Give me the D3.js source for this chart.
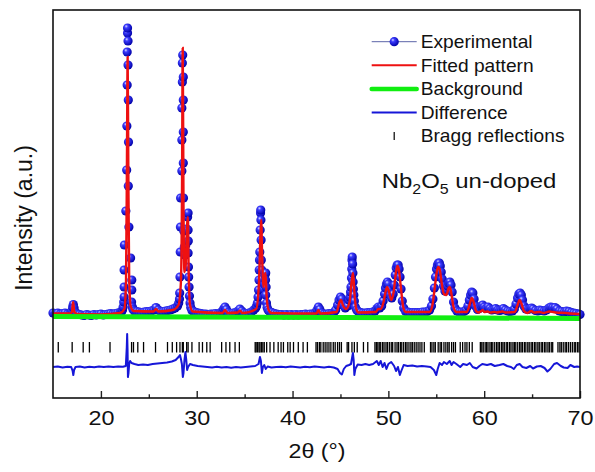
<!DOCTYPE html>
<html>
<head>
<meta charset="utf-8">
<script src="https://cdnjs.cloudflare.com/ajax/libs/d3/7.8.5/d3.min.js"></script>
<style>
    body { margin: 0; background: #fff; }
    svg { display: block; font-family: "Liberation Sans", Arial, sans-serif; }
</style>
</head>
<body>
<div id="chart"></div>
<script>

//values: [2theta (deg), intensity (a.u.)]
const expPoints = [
    [15.0,40],[15.25,35],[15.5,40],[15.75,30],[16.0,35],[16.25,40],[16.5,30],[16.75,35],[16.95,60],[17.05,100],[17.12,125],[17.2,90],[17.35,45],[17.5,30],
    [17.75,25],[18.0,20],[18.25,15],[18.5,25],[18.75,20],[19.0,15],[19.25,25],[19.5,20],[19.75,25],[20.0,30],[20.25,20],[20.5,25],[20.75,30],[21.0,35],
    [21.25,30],[21.5,35],[21.75,40],[22.0,45],[22.15,55],[22.25,70],[22.32,100],[22.38,150],[22.42,200],[22.42,300],[22.42,470],[22.45,720],[22.6,1060],
    [22.69,1470],[22.71,1910],[22.74,2320],[22.74,2650],[22.78,2840],[22.78,2890],[22.83,2760],[22.83,2520],[22.86,2170],[22.88,1750],[22.86,1310],
    [22.92,900],[23.1,590],[23.22,370],[23.22,270],[23.2,150],[23.28,100],[23.35,75],[23.5,60],[23.75,55],[24.0,50],[24.25,45],[24.5,50],[24.75,55],
    [25.0,55],[25.25,60],[25.5,70],[25.75,95],[26.0,70],[26.25,55],[26.5,55],[26.75,60],[27.0,65],[27.25,70],[27.5,80],[27.75,90],[28.0,110],[28.12,140],
    [28.2,180],[28.22,240],[28.25,400],[28.28,650],[28.3,900],[28.32,1190],[28.45,1460],[28.45,1770],[28.45,2090],[28.5,2350],[28.5,2540],[28.54,2620],
    [28.6,2400],[28.6,2170],[28.6,1850],[28.6,1540],[28.62,1190],[28.65,860],[28.7,700],[28.78,620],[28.86,720],[28.95,880],[29.05,1000],[29.1,1040],
    [29.1,870],[29.12,760],[29.1,640],[29.14,500],[29.16,400],[29.2,300],[29.24,210],[29.3,140],[29.38,95],[29.5,65],[29.7,55],[29.95,45],[30.2,40],
    [30.45,35],[30.7,30],[30.95,30],[31.2,25],[31.45,30],[31.7,30],[31.95,35],[32.2,30],[32.45,40],[32.65,55],[32.8,80],[32.95,100],[33.1,75],[33.3,45],
    [33.55,35],[33.8,40],[34.05,45],[34.3,60],[34.5,80],[34.7,60],[34.95,40],[35.2,35],[35.45,40],[35.7,50],[35.95,70],[36.15,90],[36.25,110],[36.33,140],
    [36.4,200],[36.45,270],[36.5,370],[36.52,470],[36.55,570],[36.58,650],[36.62,870],[36.66,1040],[36.68,1070],[36.7,970],[36.72,770],[36.74,570],
    [36.78,470],[36.82,380],[36.88,300],[36.95,280],[37.05,330],[37.12,420],[37.2,440],[37.18,370],[37.24,300],[37.2,220],[37.28,140],[37.35,95],
    [37.45,70],[37.6,55],[37.85,45],[38.1,35],[38.35,30],[38.6,25],[38.85,25],[39.1,20],[39.35,25],[39.6,20],[39.85,25],[40.1,20],[40.35,25],[40.6,20],
    [40.85,25],[41.1,25],[41.35,30],[41.6,25],[41.85,30],[42.1,30],[42.35,40],[42.55,70],[42.7,100],[42.85,75],[43.05,40],[43.3,30],[43.55,30],[43.8,35],
    [44.05,35],[44.3,45],[44.5,70],[44.7,120],[44.85,170],[45.0,200],[45.15,180],[45.3,120],[45.5,90],[45.75,110],[45.9,170],[46.0,200],[46.05,250],
    [46.1,300],[46.15,390],[46.18,480],[46.2,570],[46.23,600],[46.27,530],[46.3,440],[46.32,350],[46.35,280],[46.4,220],[46.45,160],[46.55,100],[46.7,70],
    [46.85,55],[47.1,45],[47.35,40],[47.6,40],[47.85,45],[48.1,45],[48.35,50],[48.6,60],[48.8,85],[48.95,100],[49.1,90],[49.3,110],[49.45,160],[49.6,230],
    [49.7,290],[49.8,330],[49.9,350],[50.0,330],[50.1,270],[50.2,220],[50.35,190],[50.5,230],[50.62,320],[50.72,420],[50.82,490],[50.92,520],[51.02,520],
    [51.12,480],[51.22,400],[51.32,280],[51.45,160],[51.6,90],[51.8,55],[52.05,50],[52.3,45],[52.55,45],[52.8,45],[53.05,45],[53.3,45],[53.55,50],
    [53.8,50],[54.05,55],[54.3,70],[54.5,110],[54.65,180],[54.8,290],[54.92,400],[55.02,480],[55.12,520],[55.22,540],[55.32,540],[55.42,510],[55.52,450],
    [55.62,380],[55.75,310],[55.9,260],[56.05,270],[56.18,310],[56.3,340],[56.42,350],[56.54,320],[56.66,250],[56.8,150],[56.95,90],[57.15,60],[57.4,50],
    [57.65,50],[57.9,55],[58.1,70],[58.3,110],[58.45,170],[58.58,220],[58.7,250],[58.82,240],[58.95,180],[59.1,110],[59.3,75],[59.5,85],[59.7,110],
    [59.85,120],[60.0,100],[60.2,85],[60.4,100],[60.6,85],[60.8,70],[61.0,75],[61.2,85],[61.4,70],[61.6,65],[61.8,70],[62.0,85],[62.2,70],[62.45,60],
    [62.7,55],[62.95,60],[63.15,80],[63.32,130],[63.48,190],[63.62,230],[63.75,240],[63.88,220],[64.0,170],[64.15,110],[64.35,80],[64.6,75],[64.8,85],
    [64.95,90],[65.1,80],[65.35,65],[65.6,60],[65.8,70],[66.0,65],[66.25,60],[66.5,70],[66.75,90],[66.95,100],[67.15,95],[67.4,95],[67.6,80],[67.85,60],
    [68.1,55],[68.35,50],[68.6,60],[68.85,55],[69.1,45],[69.35,40],[69.6,35],[69.85,30],[70.0,25]
];

const fitPoints = [
    [15,35],[16.8,35],[16.97,50],[17.1,150],[17.23,50],[17.5,30],[20,25],[22.0,40],[22.45,80],[22.62,350],[22.72,1600],[22.79,2600],[22.86,1500],
    [22.95,400],[23.1,110],[23.4,60],[25.5,55],[25.75,80],[26.0,55],[27.5,70],[28.1,120],[28.35,350],[28.46,1200],[28.54,2690],[28.62,1100],[28.72,450],
    [28.85,520],[28.98,900],[29.08,1000],[29.16,450],[29.3,120],[29.6,55],[32.7,40],[32.95,70],[33.2,40],[34.3,45],[34.52,65],[34.75,40],[36.2,80],
    [36.5,350],[36.64,800],[36.73,970],[36.83,600],[36.97,300],[37.1,400],[37.18,440],[37.3,200],[37.5,70],[37.8,40],[42.5,35],[42.7,70],[42.9,35],
    [44.6,50],[44.9,150],[45.05,170],[45.25,120],[45.6,80],[45.95,150],[46.2,380],[46.32,440],[46.45,250],[46.65,80],[46.9,45],[48.7,50],[48.95,80],
    [49.2,80],[49.5,150],[49.75,270],[49.88,300],[50.05,260],[50.3,170],[50.55,250],[50.8,450],[50.95,510],[51.1,470],[51.3,300],[51.55,100],[51.8,50],
    [54.3,50],[54.6,120],[54.85,300],[55.05,450],[55.2,500],[55.35,480],[55.55,350],[55.8,230],[56.05,220],[56.3,290],[56.42,300],[56.6,220],[56.8,100],
    [57.1,50],[58.2,50],[58.5,130],[58.7,190],[58.9,150],[59.15,60],[59.4,45],[59.7,60],[59.85,70],[60.0,50],[60.35,55],[60.6,45],[61.1,50],[61.3,45],
    [61.9,55],[62.2,45],[63.2,50],[63.45,110],[63.7,170],[63.9,130],[64.15,60],[64.5,40],[64.9,60],[65.2,45],[65.8,50],[66.2,40],[66.8,55],[67.2,50],
    [67.5,45],[68.5,40],[69.0,35],[70,30]
];

const bgPoints = [[15,5],[30,0],[45,-5],[60,-10],[70,-15]];

const diffPoints = [
    [15,-500],[15.5,-495],[16,-505],[16.5,-498],[16.9,-500],[17.05,-540],[17.12,-580],[17.2,-530],[17.35,-500],[17.8,-495],[18.3,-505],[18.8,-497],
    [19.3,-502],[19.8,-495],[20.3,-500],[20.8,-494],[21.3,-500],[21.8,-496],[22.3,-498],[22.6,-490],[22.7,-300],[22.74,-170],[22.78,-320],[22.82,-600],
    [22.88,-560],[22.95,-470],[23.05,-440],[23.2,-460],[23.5,-470],[23.9,-480],[24.4,-475],[24.9,-480],[25.4,-470],[25.9,-465],[26.4,-460],[26.9,-455],
    [27.4,-445],[27.8,-430],[28.1,-400],[28.25,-380],[28.35,-420],[28.45,-470],[28.55,-600],[28.62,-560],[28.72,-430],[28.82,-350],[28.9,-420],[29.0,-530],
    [29.1,-500],[29.3,-470],[29.6,-480],[30.1,-490],[30.6,-495],[31.1,-500],[31.6,-505],[32.1,-498],[32.6,-505],[33.1,-500],[33.6,-508],[34.1,-500],
    [34.6,-505],[35.1,-500],[35.6,-495],[36.1,-490],[36.45,-470],[36.6,-400],[36.7,-440],[36.8,-560],[36.9,-500],[37.05,-480],[37.2,-520],[37.4,-495],
    [37.8,-505],[38.3,-500],[38.8,-497],[39.3,-503],[39.8,-495],[40.3,-500],[40.8,-505],[41.3,-498],[41.8,-502],[42.3,-495],[42.8,-500],[43.3,-505],
    [43.8,-498],[44.3,-505],[44.7,-520],[44.95,-560],[45.15,-575],[45.35,-520],[45.6,-490],[45.9,-480],[46.1,-470],[46.3,-360],[46.38,-430],[46.45,-580],
    [46.55,-520],[46.8,-475],[47.2,-480],[47.6,-470],[48.0,-480],[48.4,-470],[48.8,-440],[49.0,-480],[49.2,-440],[49.4,-500],[49.6,-460],[49.8,-520],
    [50.0,-470],[50.3,-450],[50.6,-490],[50.8,-540],[51.0,-500],[51.2,-580],[51.35,-540],[51.6,-480],[52.0,-490],[52.5,-485],[53.0,-495],[53.5,-490],
    [54.0,-495],[54.4,-500],[54.75,-530],[55.0,-580],[55.15,-520],[55.35,-460],[55.6,-480],[55.8,-450],[56.1,-470],[56.4,-440],[56.6,-480],[56.8,-450],
    [57.1,-470],[57.5,-500],[57.8,-470],[58.2,-480],[58.5,-460],[58.8,-500],[59.2,-515],[59.5,-490],[59.8,-470],[60.3,-480],[60.7,-470],[61.1,-490],
    [61.6,-480],[62.0,-470],[62.4,-490],[62.8,-500],[63.1,-520],[63.4,-480],[63.7,-470],[64.0,-500],[64.4,-510],[64.8,-490],[65.1,-515],[65.5,-495],
    [65.9,-490],[66.3,-510],[66.6,-545],[66.9,-520],[67.3,-470],[67.6,-460],[68.0,-490],[68.3,-505],[68.7,-510],[69.0,-480],[69.4,-500],[69.7,-495],[70,-500]
];

const braggPos = [
    15.55, 17.0, 18.15, 18.8, 20.95, 22.7, 23.2, 23.4, 23.85, 24.45, 25.7, 26.95, 27.45, 27.9, 28.25, 28.5, 28.6, 28.95, 29.1, 29.5, 30.25, 30.6,
    31.05, 31.4, 32.6, 33.05, 33.45, 34.0, 34.45, 36.1, 36.2, 36.35, 36.5, 36.6, 36.75, 36.9, 37.05, 37.3, 37.65, 38.05, 38.5, 38.8, 39.05, 39.5,
    39.75, 40.1, 40.6, 41.1, 41.55, 42.45, 42.6, 42.8, 42.95, 43.2, 43.4, 43.6, 43.8, 44.0, 44.25, 44.45, 44.7, 44.9, 45.1, 45.7, 45.85, 46.2, 46.45,
    46.75, 47.4, 47.85, 48.6, 48.75, 48.9, 49.05, 49.2, 49.4, 49.55, 49.75, 49.9, 50.1, 50.3, 50.45, 50.7, 50.9, 51.05, 51.25, 51.4, 51.6, 51.8,
    51.95, 52.15, 52.35, 52.5, 52.7, 52.9, 53.1, 53.3, 53.5, 53.75, 54.4, 54.55, 54.75, 54.9, 55.2, 55.4, 55.55, 55.8, 56.0, 56.2, 56.35, 56.6,
    56.8, 57.0, 57.5, 57.75, 58.0, 58.2, 58.45, 58.75, 59.6, 59.75, 59.9, 60.1, 60.25, 60.4, 60.6, 60.75, 60.9, 61.1, 61.3, 61.45, 61.6, 61.8,
    61.95, 62.1, 62.3, 62.45, 62.65, 62.8, 63.0, 63.15, 63.3, 63.5, 63.7, 63.85, 64.0, 64.2, 64.35, 64.55, 64.7, 64.9, 65.05, 65.25, 65.4, 65.6,
    65.75, 65.95, 66.1, 66.3, 66.45, 66.65, 66.8, 67.0, 67.15, 67.7, 67.9, 68.05, 68.25, 68.45, 68.6, 68.8, 69.0, 69.2, 69.4, 69.55, 69.75, 69.9
];

const majorTicks = [20, 30, 40, 50, 60, 70];
const minorTicks = [25, 35, 45, 55, 65];
const legendLabels = ["Experimental", "Fitted pattern", "Background", "Difference", "Bragg reflections"];


class RietveldPlot {

    constructor(_parentElement) {
        this.parentElement = _parentElement;
        this.initVis();
    }

    initVis() {
        let vis = this;

        vis.margin = {top: 10, right: 15, bottom: 74, left: 53};
        vis.width = 595 - vis.margin.left - vis.margin.right;
        vis.height = 472 - vis.margin.top - vis.margin.bottom;

        //SVG drawing area
        vis.svg = d3.select("#" + vis.parentElement).append("svg")
            .attr("width", 595)
            .attr("height", 472)
            .append("g")
            .attr("transform", "translate(" + vis.margin.left + "," + vis.margin.top + ")");

        //shaded ball for the experimental points
        let grad = vis.svg.append("defs").append("radialGradient")
            .attr("id", "ball")
            .attr("cx", "40%").attr("cy", "38%").attr("r", "62%")
            .attr("fx", "35%").attr("fy", "30%");
        grad.append("stop").attr("offset", "0%").attr("stop-color", "#dcdcff");
        grad.append("stop").attr("offset", "30%").attr("stop-color", "#3c3cff");
        grad.append("stop").attr("offset", "100%").attr("stop-color", "#0000a8");

        vis.x = d3.scaleLinear().domain([15, 70]).range([0, vis.width]);
        vis.y = d3.scaleLinear().domain([-810, 3070]).range([vis.height, 0]);

        vis.updateVis();
    }

    updateVis() {
        let vis = this;

        //experimental points
        vis.svg.append("g").selectAll("circle")
            .data(expPoints)
            .enter().append("circle")
            .attr("cx", d => vis.x(d[0]))
            .attr("cy", d => vis.y(d[1]))
            .attr("r", 4.6)
            .attr("fill", "url(#ball)");

        //fitted pattern
        vis.svg.append("path")
            .datum(fitPoints)
            .attr("fill", "none")
            .attr("stroke", "#ee1111")
            .attr("stroke-width", 2.4)
            .attr("d", d3.line().x(d => vis.x(d[0])).y(d => vis.y(d[1])).curve(d3.curveMonotoneX));

        //background
        vis.svg.append("path")
            .datum(bgPoints)
            .attr("fill", "none")
            .attr("stroke", "#11ee11")
            .attr("stroke-width", 5)
            .attr("d", d3.line().x(d => vis.x(d[0])).y(d => vis.y(d[1])));

        //bragg reflections
        vis.svg.append("g").selectAll("line")
            .data(braggPos)
            .enter().append("line")
            .attr("x1", d => vis.x(d)).attr("x2", d => vis.x(d))
            .attr("y1", vis.y(-250)).attr("y2", vis.y(-355))
            .attr("stroke", "#000")
            .attr("stroke-width", 1.3);

        //difference curve
        vis.svg.append("path")
            .datum(diffPoints)
            .attr("fill", "none")
            .attr("stroke", "#1616d8")
            .attr("stroke-width", 2)
            .attr("stroke-linejoin", "round")
            .attr("d", d3.line().x(d => vis.x(d[0])).y(d => vis.y(d[1])));

        //axes
        let major = vis.svg.append("g")
            .attr("transform", "translate(0," + vis.height + ")")
            .call(d3.axisBottom(vis.x).tickValues(majorTicks).tickSize(-7).tickSizeOuter(0));
        major.selectAll("line").attr("stroke", "#222").attr("stroke-width", 1.4);
        major.selectAll("text")
            .attr("y", 27.5).attr("dy", null)
            .attr("font-size", 20).attr("font-family", "Liberation Sans, Arial, sans-serif")
            .attr("fill", "#111")
            .attr("transform", "scale(1.17,1)");
        major.select(".domain").remove();

        let minor = vis.svg.append("g")
            .attr("transform", "translate(0," + vis.height + ")")
            .call(d3.axisBottom(vis.x).tickValues(minorTicks).tickSize(-3.7).tickSizeOuter(0).tickFormat(""));
        minor.selectAll("line").attr("stroke", "#222").attr("stroke-width", 1.4);
        minor.select(".domain").remove();

        //frame
        vis.svg.append("rect")
            .attr("width", vis.width).attr("height", vis.height)
            .attr("fill", "none").attr("stroke", "#111").attr("stroke-width", 1.6);

        //axis titles
        vis.svg.append("text")
            .attr("transform", "translate(" + (317 - vis.margin.left) + "," + (458 - vis.margin.top) + ") scale(1.16,1)")
            .attr("text-anchor", "middle")
            .attr("font-size", 20).attr("fill", "#111")
            .text("2θ (°)");

        vis.svg.append("text")
            .attr("transform", "translate(" + (32 - vis.margin.left) + "," + (218 - vis.margin.top) + ") rotate(-90)")
            .attr("text-anchor", "middle")
            .attr("font-size", 23).attr("fill", "#111")
            .text("Intensity (a.u.)");

        //sample name
        let nb = vis.svg.append("text")
            .attr("transform", "translate(" + (381.7 - vis.margin.left) + "," + (188.3 - vis.margin.top) + ") scale(1.14,1)")
            .attr("font-size", 21).attr("fill", "#111");
        nb.append("tspan").text("Nb");
        nb.append("tspan").attr("font-size", 14).attr("dy", 6).text("2");
        nb.append("tspan").attr("dy", -6).text("O");
        nb.append("tspan").attr("font-size", 14).attr("dy", 6).text("5");
        nb.append("tspan").attr("dy", -6).text(" un-doped");

        vis.drawLegend();
    }

    drawLegend() {
        let vis = this;
        let x0 = 371.7 - vis.margin.left, x1 = 416.7 - vis.margin.left;
        let xm = (x0 + x1) / 2;

        let leg = vis.svg.append("g").attr("class", "legend");

        legendLabels.forEach(function (label, i) {
            let cy = 41.7 + i * 23.6 - vis.margin.top;

            if (i == 0) {
                leg.append("line").attr("x1", x0).attr("x2", x1).attr("y1", cy).attr("y2", cy)
                    .attr("stroke", "#5c64a8").attr("stroke-width", 1);
                leg.append("circle").attr("cx", xm).attr("cy", cy).attr("r", 4.6).attr("fill", "url(#ball)");
            }
            else if (i == 1) {
                leg.append("line").attr("x1", x0).attr("x2", x1).attr("y1", cy).attr("y2", cy)
                    .attr("stroke", "#ee1111").attr("stroke-width", 2);
            }
            else if (i == 2) {
                leg.append("line").attr("x1", x0).attr("x2", x1).attr("y1", cy).attr("y2", cy)
                    .attr("stroke", "#11ee11").attr("stroke-width", 4.5).attr("stroke-linecap", "round");
            }
            else if (i == 3) {
                leg.append("line").attr("x1", x0).attr("x2", x1).attr("y1", cy).attr("y2", cy)
                    .attr("stroke", "#1616d8").attr("stroke-width", 2);
            }
            else {
                leg.append("line").attr("x1", xm).attr("x2", xm).attr("y1", cy - 4).attr("y2", cy + 4)
                    .attr("stroke", "#000").attr("stroke-width", 1.2);
            }

            leg.append("text")
                .attr("transform", "translate(" + (420.7 - vis.margin.left) + "," + (cy + 6.2) + ") scale(1.09,1)")
                .attr("font-size", 17.6).attr("fill", "#111")
                .text(label);
        });
    }
}

new RietveldPlot("chart");

</script>
</body>
</html>
